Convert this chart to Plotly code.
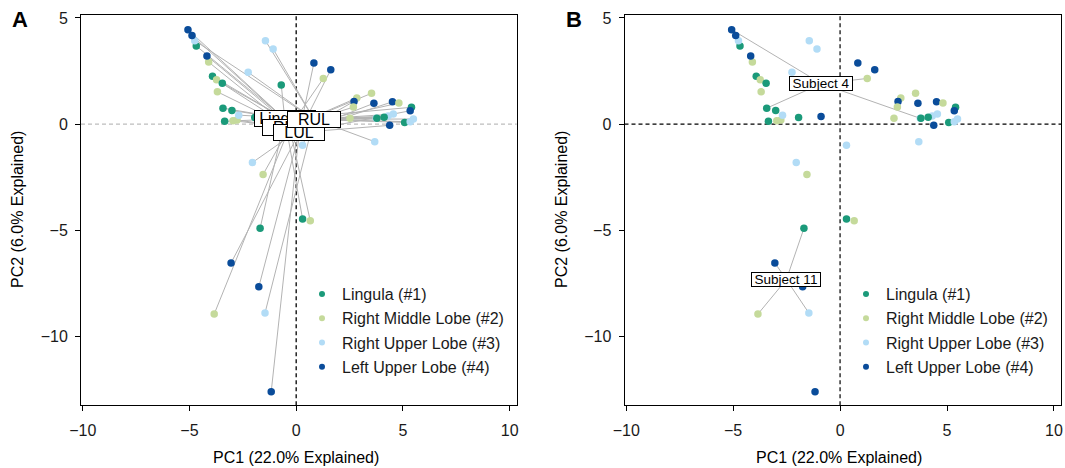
import plotly.graph_objects as go

# ---------------- data ----------------
lobe_names = ["Lingula (#1)", "Right Middle Lobe (#2)", "Right Upper Lobe (#3)", "Left Upper Lobe (#4)"]
lobe_short = ["Lingula", "RML", "RUL", "LUL"]
lobe_colors = ["#1b9a7a", "#c5da9b", "#b2dcf6", "#0a4c9a"]
subject_ids = list(range(1, 15))

lingula_pc1 = [-4.68, -3.92, -3.46, -3.43, 3.78, -3.01, -3.35, -1.94, 5.40, 4.12, -1.69, 5.08, 0.30, -0.70]
lingula_pc2 = [3.68, 2.25, 1.92, 0.75, 0.28, 0.64, 0.13, 0.31, 0.79, 0.32, -4.91, 0.08, -4.47, 1.84]

rml_pc1 = [-4.10, -3.73, -3.69, 1.27, -2.77, -2.96, 2.84, 3.53, 2.68, 4.81, -3.84, 2.52, -1.55, 0.66]
rml_pc2 = [2.92, 2.09, 1.52, 2.15, 0.19, 0.16, 1.23, 1.45, 0.80, 0.99, -8.95, 0.27, -2.37, -4.56]

rul_pc1 = [-4.75, -1.44, -1.08, 3.75, -2.25, -2.69, 0.30, -2.05, 4.31, 4.55, -1.46, 5.34, 5.49, 3.68]
rul_pc2 = [3.93, 3.93, 3.54, 0.27, 2.44, 0.42, -1.00, -1.81, 0.38, 0.47, -8.90, 0.11, 0.24, -0.83]

lul_pc1 = [-4.88, -4.18, -0.89, -5.07, 0.83, 1.62, 2.71, 3.64, 4.51, 5.34, -3.05, 4.38, -1.75, -1.17]
lul_pc2 = [4.17, 3.21, 0.36, 4.45, 2.88, 2.56, 1.07, 0.98, 1.05, 0.63, -6.54, -0.06, -7.67, -12.61]

labeled_subjects = [4, 11]

x_title = "PC1 (22.0% Explained)"
y_title = "PC2 (6.0% Explained)"
x_ticks = [-10, -5, 0, 5, 10]
y_ticks = [-10, -5, 0, 5]

# ---------------- build ----------------
lobe_pc1 = [lingula_pc1, rml_pc1, rul_pc1, lul_pc1]
lobe_pc2 = [lingula_pc2, rml_pc2, rul_pc2, lul_pc2]

FONT = "Liberation Sans, Arial, Helvetica, sans-serif"
LINE_COL = "#b3b3b3"

fig = go.Figure()

def mean(v):
    return sum(v) / len(v)

# Panel A: segments from each point to its lobe centroid
lobe_cent = []
segx, segy = [], []
for k in range(4):
    cx, cy = mean(lobe_pc1[k]), mean(lobe_pc2[k])
    lobe_cent.append((cx, cy))
    for xv, yv in zip(lobe_pc1[k], lobe_pc2[k]):
        segx += [xv, cx, None]
        segy += [yv, cy, None]
fig.add_trace(go.Scatter(x=segx, y=segy, mode="lines", line=dict(color=LINE_COL, width=1),
                         hoverinfo="skip", showlegend=False, xaxis="x", yaxis="y"))

# Panel B: segments from labelled subjects' points to subject centroid
subj_cent = []
segx, segy = [], []
for s in labeled_subjects:
    i = subject_ids.index(s)
    xs = [lobe_pc1[k][i] for k in range(4)]
    ys = [lobe_pc2[k][i] for k in range(4)]
    cx, cy = mean(xs), mean(ys)
    subj_cent.append((s, cx, cy))
    for xv, yv in zip(xs, ys):
        segx += [xv, cx, None]
        segy += [yv, cy, None]
fig.add_trace(go.Scatter(x=segx, y=segy, mode="lines", line=dict(color=LINE_COL, width=1),
                         hoverinfo="skip", showlegend=False, xaxis="x2", yaxis="y2"))

# points ordered by subject (row order)
px, py, pc = [], [], []
for i in range(len(subject_ids)):
    for k in range(4):
        px.append(lobe_pc1[k][i])
        py.append(lobe_pc2[k][i])
        pc.append(lobe_colors[k])
for xa, ya in (("x", "y"), ("x2", "y2")):
    fig.add_trace(go.Scatter(x=px, y=py, mode="markers",
                             marker=dict(color=pc, size=7.5, line=dict(width=0)),
                             showlegend=False, xaxis=xa, yaxis=ya))

# legend entries
for leg, xa, ya in (("legend", "x", "y"), ("legend2", "x2", "y2")):
    for k in range(4):
        fig.add_trace(go.Scatter(x=[None], y=[None], mode="markers", name=lobe_names[k],
                                 marker=dict(color=lobe_colors[k], size=6),
                                 legend=leg, legendgroup=leg + str(k),
                                 xaxis=xa, yaxis=ya))

# ---------------- layout ----------------
W, H = 1065, 468
XR = [-10.08, 10.33]
YR = [-13.25, 5.14]
ydom = [1 - 405.3 / H, 1 - 15 / H]

axis_common = dict(range=XR, tickvals=x_ticks, ticktext=["\u221210", "\u22125", "0", "5", "10"],
                   showgrid=False, zeroline=False, showline=True, mirror=True,
                   linecolor="black", linewidth=1, ticks="outside", ticklen=5,
                   tickcolor="black", tickwidth=1, automargin=False, ticklabelstandoff=5,
                   tickfont=dict(family=FONT, size=16, color="#1a1a1a"))
yaxis_common = dict(axis_common)
yaxis_common.update(range=YR, tickvals=y_ticks, ticktext=["\u221210", "\u22125", "0", "5"],
                    ticklabelstandoff=4)

legend_common = dict(font=dict(family=FONT, size=16, color="#1a1a1a"), bgcolor="rgba(0,0,0,0)",
                     tracegroupgap=0.5, xanchor="left", yanchor="top", itemwidth=30)

fig.update_layout(
    template="none",
    width=W, height=H,
    margin=dict(l=0, r=0, t=0, b=0, autoexpand=False),
    paper_bgcolor="white", plot_bgcolor="white",
    showlegend=True,
    xaxis=dict(axis_common, domain=[81 / W, 516.7 / W], anchor="y"),
    yaxis=dict(yaxis_common, domain=ydom, anchor="x"),
    xaxis2=dict(axis_common, domain=[624.5 / W, 1061 / W], anchor="y2"),
    yaxis2=dict(yaxis_common, domain=ydom, anchor="x2"),
    legend=dict(legend_common, x=302 / W, y=1 - 277 / H),
    legend2=dict(legend_common, x=846 / W, y=1 - 277 / H),
)

# dashed reference lines
shapes = [
    dict(type="line", xref="x", yref="y domain", x0=0, x1=0, y0=0, y1=1,
         line=dict(color="black", width=1.3, dash="4px,3px"), layer="below"),
    dict(type="line", xref="x domain", yref="y", x0=0, x1=1, y0=0, y1=0,
         line=dict(color="#bdbdbd", width=1.3, dash="4px,3px"), layer="below"),
    dict(type="line", xref="x2", yref="y2 domain", x0=0, x1=0, y0=0, y1=1,
         line=dict(color="#333333", width=1.5, dash="4px,3px"), layer="below"),
    dict(type="line", xref="x2 domain", yref="y2", x0=0, x1=1, y0=0, y1=0,
         line=dict(color="black", width=1.3, dash="4px,3px"), layer="below"),
]
fig.update_layout(shapes=shapes)

ann = []
# lobe centroid labels (panel A); box widths follow text length
label_w = {"Lingula": 60, "RML": 54, "RUL": 52, "LUL": 50}
for k in [0, 1, 3, 2]:
    cx, cy = lobe_cent[k]
    ann.append(dict(x=cx, y=cy, xref="x", yref="y", text=lobe_short[k], showarrow=False,
                    font=dict(family=FONT, size=16, color="black"),
                    bgcolor="white", bordercolor="black", borderwidth=1, borderpad=0,
                    width=label_w[lobe_short[k]], height=15))
# subject labels (panel B)
for s, cx, cy in subj_cent:
    ann.append(dict(x=cx, y=cy, xref="x2", yref="y2", text=f"Subject {s}", showarrow=False,
                    font=dict(family=FONT, size=13.5, color="black"),
                    bgcolor="white", bordercolor="black", borderwidth=1, borderpad=0,
                    width=62 if s < 10 else 68, height=13))
# axis titles
for cxp in (296 / W, 839 / W):
    ann.append(dict(x=cxp, y=1 - 457 / H, xref="paper", yref="paper", text=x_title,
                    showarrow=False, xanchor="center", yanchor="middle",
                    font=dict(family=FONT, size=16, color="black")))
for cxp in (18 / W, 562 / W):
    ann.append(dict(x=cxp, y=1 - 210 / H, xref="paper", yref="paper", text=y_title,
                    showarrow=False, xanchor="center", yanchor="middle", textangle=-90,
                    font=dict(family=FONT, size=16, color="black")))
# panel letters
for letter, xp in (("A", 20 / W), ("B", 574 / W)):
    ann.append(dict(x=xp, y=1 - 20 / H, xref="paper", yref="paper", text=f"<b>{letter}</b>",
                    showarrow=False, xanchor="center", yanchor="middle",
                    font=dict(family=FONT, size=22, color="black")))
fig.update_layout(annotations=ann)

fig.write_html("out.html", config={"displayModeBar": False},
               post_script="document.body.style.margin='0px';")
